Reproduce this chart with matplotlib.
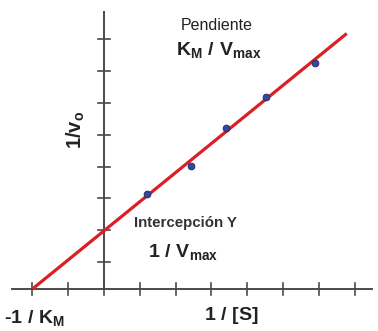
import matplotlib
matplotlib.use("Agg")
from matplotlib import pyplot as plt

plt.rcParams["font.family"] = ["Liberation Sans", "DejaVu Sans"]
plt.rcParams["mathtext.fontset"] = "custom"
plt.rcParams["mathtext.rm"] = "Liberation Sans:bold"
plt.rcParams["mathtext.it"] = "Liberation Sans:bold"
plt.rcParams["mathtext.bf"] = "Liberation Sans:bold"

# datos (unidades de las marcas)
inv_s = [1.20, 2.42, 3.41, 4.52, 5.89]
inv_v = [2.98, 3.88, 5.05, 6.04, 7.11]
x_ticks = [-2, -1, 1, 2, 3, 4, 5, 6, 7]
y_ticks = [0.85, 1.85, 2.85, 3.85, 4.85, 5.85, 6.85, 7.85]
x_cut = -2.0        # -1/Km
y_cut = 1.83        # 1/Vmax
x_end = 6.78

slope = y_cut / (0 - x_cut)

fig = plt.figure(figsize=(3.78, 3.31), dpi=100)
ax = fig.add_axes([0, 0, 1, 1])
ax.set_xlim(-2.905, 7.654)
ax.set_ylim(-1.321, 9.088)
ax.axis("off")

axis_col = "#4a4a4a"
# ejes
ax.plot([-2.57, 7.49], [0, 0], color=axis_col, lw=1.4, zorder=1)
ax.plot([0, 0], [0, 8.71], color=axis_col, lw=1.4, zorder=1)

# marcas
tx, ty = 0.17, 0.15
for t in x_ticks + [0]:
    ax.plot([t, t], [-ty * 1.2, ty * 1.2], color=axis_col, lw=1.2, zorder=1)
for t in y_ticks:
    ax.plot([-tx, tx], [t, t], color=axis_col, lw=1.2, zorder=1)

# recta de ajuste
ax.plot([x_cut, x_end], [0, slope * (x_end - x_cut)], color="#dc1f26", lw=2.3,
        solid_capstyle="butt", zorder=2)
ax.scatter(inv_s, inv_v, s=24, color="#34489a", edgecolors="#1c2a66",
           linewidths=0.6, zorder=3)

# textos
txt = "#222222"
ax.text(3.16, 8.3, "Pendiente", fontsize=11.5, ha="center", va="center", color=txt)
ax.text(3.2, 7.5, r"$\mathrm{K_M\ /\ V_{max}}$", fontsize=14, ha="center",
        va="center", color=txt)
ax.text(2.29, 2.07, "Intercepción Y", fontsize=10.8, fontweight="bold", ha="center",
        va="center", color="#333333")
ax.text(2.22, 1.15, r"$\mathrm{1\ /\ V_{max}}$", fontsize=14, ha="center",
        va="center", color=txt)
ax.text(-0.8, 5.0, r"$\mathrm{1/v_o}$", fontsize=14.5, rotation=90, ha="center",
        va="center", color=txt)
ax.text(-1.95, -0.92, r"-$\mathrm{1\ /\ K_M}$", fontsize=14, fontweight="bold",
        ha="center", va="center", color=txt)
ax.text(3.55, -0.82, r"$\mathrm{1\ /\ [S]}$", fontsize=14, ha="center",
        va="center", color=txt)

fig.savefig("out.png", dpi=100, facecolor="white")
